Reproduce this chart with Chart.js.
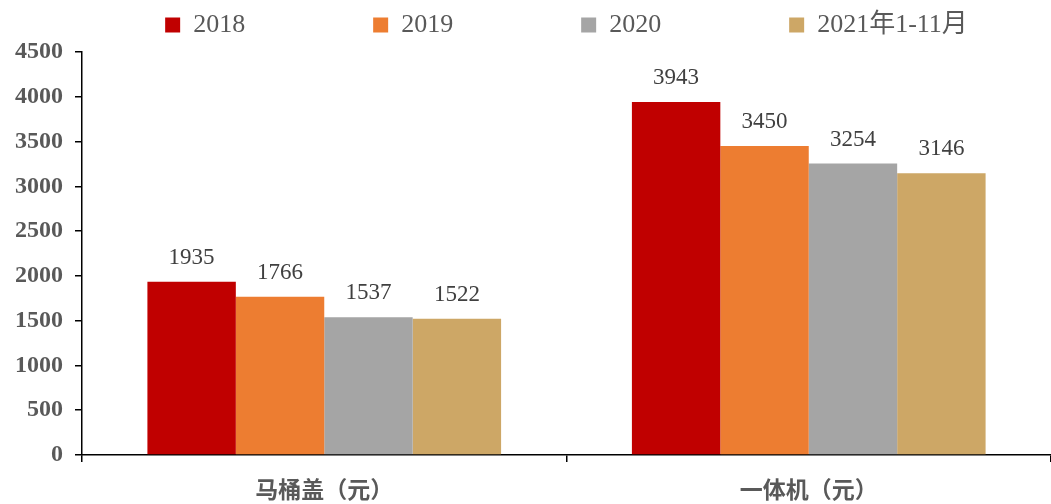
<!DOCTYPE html>
<html>
<head>
<meta charset="utf-8">
<script src="https://cdn.jsdelivr.net/npm/chart.js@4"></script>
<style>
  html, body { margin: 0; padding: 0; background: #fff; }
  #wrap { width: 1051px; height: 504px; }
</style>
</head>
<body>
<div id="wrap"><canvas id="c"></canvas></div>
<script>
// categories + series
const categories = ['马桶盖（元）', '一体机（元）'];
const seriesNames = ['2018', '2019', '2020', '2021年1-11月'];
const v2018 = [1935, 3943];
const v2019 = [1766, 3450];
const v2020 = [1537, 3254];
const v2021 = [1522, 3146];
const colors = ['#C00000', '#ED7D31', '#A5A5A5', '#CDA766'];

const serif = '"Liberation Serif", "Noto Sans CJK SC", serif';
const legendGap = ' '.repeat(18); // wide spacing between legend entries

// numbers above the bars
const barLabels = {
  id: 'barLabels',
  afterDatasetsDraw(chart){
    const ctx = chart.ctx;
    ctx.save();
    ctx.font = '23px ' + serif;
    ctx.fillStyle = '#404040';
    ctx.textAlign = 'center';
    ctx.textBaseline = 'middle';
    chart.data.datasets.forEach((ds, i)=>{
      chart.getDatasetMeta(i).data.forEach((bar, j)=>{
        ctx.fillText(ds.data[j], bar.x, bar.y - 24);
      });
    });
    ctx.restore();
  }
};

// a few extra px under the legend
const legendSpace = {
  id: 'legendSpace',
  beforeUpdate(chart){
    const lg = chart.legend;
    if (lg && !lg._padded){
      const fit = lg.fit;
      lg.fit = function(){ fit.call(this); this.height += 4; };
      lg._padded = true;
    }
  }
};

new Chart(document.getElementById('c'), {
  type: 'bar',
  data: {
    labels: categories,
    datasets: [v2018, v2019, v2020, v2021].map((d, i)=>({
      label: seriesNames[i],
      data: d,
      backgroundColor: colors[i],
      borderWidth: 0,
      categoryPercentage: 0.73,
      barPercentage: 1.0
    }))
  },
  options: {
    responsive: true,
    maintainAspectRatio: false,
    animation: false,
    layout: { padding: { left: 3, right: 0, top: 1, bottom: -13 } },
    plugins: {
      legend: {
        position: 'top',
        fullSize: false,
        labels: {
          boxWidth: 15,
          boxHeight: 15,
          padding: 11,
          color: '#595959',
          font: { family: serif, size: 26 },
          generateLabels(chart){
            const items = Chart.defaults.plugins.legend.labels.generateLabels(chart);
            items.forEach((it, i)=>{
              if (i < items.length - 1) it.text = it.text + legendGap;
              it.lineWidth = 0;
            });
            return items;
          }
        }
      },
      tooltip: { enabled: false }
    },
    scales: {
      x: {
        grid: {
          display: true,
          drawOnChartArea: false,
          color: '#000',
          tickLength: 7,
          lineWidth: 1.5
        },
        border: { display: true, color: '#000', width: 1.5 },
        ticks: {
          color: '#595959',
          padding: 16,
          font: { family: '"Noto Sans CJK SC", sans-serif', size: 23, weight: 'bold', lineHeight: 1 }
        }
      },
      y: {
        min: 0,
        max: 4500,
        ticks: {
          stepSize: 500,
          autoSkip: false,
          color: '#595959',
          padding: 12,
          font: { family: serif, size: 24, weight: 'bold' },
          callback: v => String(v)
        },
        grid: {
          display: true,
          drawOnChartArea: false,
          color: '#000',
          tickLength: 7,
          lineWidth: 1.5
        },
        border: { display: true, color: '#000', width: 1.5 }
      }
    }
  },
  plugins: [barLabels, legendSpace]
});
</script>
</body>
</html>
